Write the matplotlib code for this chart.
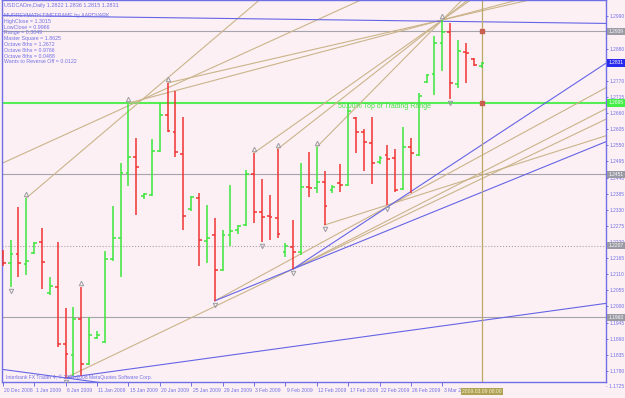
import numpy as np
import matplotlib.pyplot as plt
from matplotlib import transforms

# USDCADm daily bars, left to right
opens = [1.2182, 1.2148, 1.2179, 1.2145, 1.2182, 1.2220, 1.2046, 1.2066, 1.1872, 1.1834,
         1.1957, 1.1803, 1.1892, 1.1879, 1.2162, 1.2234, 1.2455, 1.2510, 1.2377, 1.2380,
         1.2530, 1.2653, 1.2595, 1.2520, 1.2332, 1.2370, 1.2223, 1.2244, 1.2124, 1.2244,
         1.2261, 1.2278, 1.2452, 1.2322, 1.2309, 1.2302, 1.2186, 1.2203, 1.2186, 1.2408,
         1.2404, 1.2425, 1.2397, 1.2421, 1.2414, 1.2643, 1.2595, 1.2558, 1.2493, 1.2517,
         1.2507, 1.2401, 1.2544, 1.2517, 1.2766, 1.2793, 1.2899, 1.2937, 1.2759, 1.2868,
         1.2844, 1.2822]
highs = [1.2193, 1.2227, 1.2339, 1.2370, 1.2220, 1.2268, 1.2100, 1.2220, 1.1995, 1.1998,
         1.2066, 1.1964, 1.1916, 1.2189, 1.2343, 1.2489, 1.2694, 1.2575, 1.2387, 1.2571,
         1.2694, 1.2763, 1.2735, 1.2647, 1.2377, 1.2387, 1.2346, 1.2302, 1.2261, 1.2414,
         1.2278, 1.2466, 1.2524, 1.2435, 1.2380, 1.2537, 1.2216, 1.2295, 1.2489, 1.2527,
         1.2544, 1.2462, 1.2414, 1.2486, 1.2694, 1.2647, 1.2606, 1.2647, 1.2513, 1.2551,
         1.2537, 1.2612, 1.2575, 1.2728, 1.2793, 1.2923, 1.2978, 1.2967, 1.2909, 1.2899,
         1.2848, 1.2836]
lows = [1.2138, 1.2066, 1.2100, 1.2107, 1.2179, 1.2060, 1.2039, 1.1861, 1.1756, 1.1763,
        1.1763, 1.1800, 1.1889, 1.1875, 1.2155, 1.2100, 1.2411, 1.2312, 1.2367, 1.2377,
        1.2527, 1.2595, 1.2510, 1.2261, 1.2326, 1.2138, 1.2148, 1.2019, 1.2121, 1.2206,
        1.2247, 1.2274, 1.2285, 1.2220, 1.2227, 1.2234, 1.2169, 1.2128, 1.2176, 1.2373,
        1.2387, 1.2278, 1.2387, 1.2391, 1.2411, 1.2524, 1.2462, 1.2418, 1.2486, 1.2346,
        1.2391, 1.2397, 1.2387, 1.2513, 1.2763, 1.2722, 1.2803, 1.2708, 1.2745, 1.2763,
        1.2821, 1.2815]
closes = [1.2148, 1.2179, 1.2148, 1.2155, 1.2216, 1.2152, 1.2070, 1.1872, 1.1838, 1.1957,
          1.1803, 1.1902, 1.1902, 1.2162, 1.2234, 1.2455, 1.2510, 1.2476, 1.2384, 1.2530,
          1.2653, 1.2599, 1.2527, 1.2309, 1.2373, 1.2227, 1.2234, 1.2124, 1.2244, 1.2257,
          1.2274, 1.2452, 1.2322, 1.2305, 1.2305, 1.2247, 1.2206, 1.2186, 1.2408, 1.2404,
          1.2425, 1.2343, 1.2408, 1.2414, 1.2667, 1.2595, 1.2561, 1.2489, 1.2507, 1.2503,
          1.2397, 1.2544, 1.2524, 1.2718, 1.2790, 1.2899, 1.2937, 1.2763, 1.2872, 1.2865,
          1.2824, 1.2831]

up_fractals = [3, 10, 16, 21, 32, 35, 40, 56]
down_fractals = [1, 8, 27, 33, 37, 41, 49, 57]

date_pos = [0, 4, 8, 12, 16, 20, 24, 28, 32, 36, 40, 44, 48, 52, 56]
date_labels = ["20 Dec 2008", "1 Jan 2009", "6 Jan 2009", "11 Jan 2009", "15 Jan 2009",
               "20 Jan 2009", "25 Jan 2009", "29 Jan 2009", "3 Feb 2009", "9 Feb 2009",
               "12 Feb 2009", "17 Feb 2009", "22 Feb 2009", "26 Feb 2009", "3 Mar 2009"]
cursor_bar = 61
cursor_label = "2009.03.09 08:00"

price_ticks = [1.1780, 1.1835, 1.1890, 1.1945, 1.2000, 1.2055, 1.2110, 1.2165, 1.2220,
               1.2275, 1.2330, 1.2385, 1.2440, 1.2495, 1.2550, 1.2605, 1.2660, 1.2715,
               1.2770, 1.2825, 1.2880, 1.2935, 1.2990]
bottom_tick = 1.1725

# murrey math levels
grey_levels = [1.2939, 1.2451, 1.2207, 1.1963]
grey_styles = ["-", "-", ":", "-"]
green_level = 1.2695
last_price = 1.2831

# trend lines (bar, price) -> (bar, price), extended to the right
tan_lines = [(8, 1.1756, 37, 1.2128),
             (41, 1.2278, 49, 1.2346),
             (27, 1.2019, 77, 1.2749),
             (37, 1.2128, 77, 1.2677),
             (3, 1.2370, 20, 1.2757),
             (-0.3, 1.2486, 25.2, 1.2797),
             (32, 1.2524, 56, 1.2978),
             (35, 1.2537, 56, 1.2978),
             (40, 1.2544, 56, 1.2978),
             (21, 1.2763, 56, 1.2978),
             (16, 1.2694, 56, 1.2978)]
blue_lines = [(37, 1.2128, 77, 1.2833),
              (27, 1.2019, 37, 1.2128),
              (8, 1.1756, 77, 1.2011),
              (-0.3, 1.1786, 8, 1.1756),
              (-0.3, 1.2993, 77, 1.2966)]

title = "USDCADm,Daily 1.2822 1.2836 1.2815 1.2831"
info_lines = ["MURREYMATH TIMEFRAME by AARDVARK", "HighClose = 1.3015", "LowClose = 0.9966",
              "Range = 0.3049", "Master Square = 1.8625", "Octave 8ths = 1.2672",
              "Octave 8ths = 0.9766", "Octave 8ths = 0.0488", "Wants to Reverse Off = 0.0122"]
copyright = "Interbank FX Trader 4, \u00a9 2001-2008 MetaQuotes Software Corp."

bg = "#fdf0f4"
fg = "#7070e6"
tan = "#c9b48a"
blue = "#6464e6"
grey = "#a4a4ac"
plt.rcParams["font.family"] = ["Liberation Sans", "DejaVu Sans"]

fig = plt.figure(figsize=(6.25, 3.98), dpi=100, facecolor=bg)
ax = fig.add_axes([2 / 625, 16 / 398, 604 / 625, 382 / 398], facecolor=bg)
xmin, xmax = -0.1, 76.85
ax.set_xlim(xmin, xmax)
ax.set_ylim(1.1742, 1.3046)
for s in ax.spines.values():
    s.set_color(fg)
    s.set_linewidth(1.0)

# levels
for lv, ls in zip(grey_levels, grey_styles):
    ax.axhline(lv, color=grey, lw=0.8, ls=ls, zorder=1)
ax.axhline(green_level, color="#55ee55", lw=1.5, zorder=1)
ax.text(42.7, green_level, "50.00% Top of Trading Range", color="#44dd44", fontsize=5.0,
        va="top", ha="left")

# trend lines
def ray(k1, p1, k2, p2, color):
    slope = (p2 - p1) / (k2 - k1)
    ax.plot([k1, xmax], [p1, p1 + slope * (xmax - k1)], color=color, lw=0.8, zorder=2)

for ln in tan_lines:
    ray(*ln, tan)
for ln in blue_lines:
    ray(*ln, blue)

ax.axvline(cursor_bar, color="#bba96a", lw=0.9, zorder=2)
ax.plot([cursor_bar, cursor_bar], [grey_levels[0], green_level], ls="none", marker="s",
        ms=2.2, color="#c86050", zorder=4)

# bars
idx = np.arange(len(opens))
up = np.array(closes) >= np.array(opens)
colors = np.where(up, "#3be63b", "#f03232")
ax.vlines(idx, lows, highs, colors=colors, lw=1.1, zorder=3)
ax.hlines(opens, idx - 0.36, idx, colors=colors, lw=1.1, zorder=3)
ax.hlines(closes, idx, idx + 0.36, colors=colors, lw=1.1, zorder=3)

# fractals
up_tr = transforms.offset_copy(ax.transData, fig=fig, y=4, units="dots")
dn_tr = transforms.offset_copy(ax.transData, fig=fig, y=-4, units="dots")
ax.plot(up_fractals, [highs[i] for i in up_fractals], ls="none", marker="^", ms=3.2,
        mfc="none", mec="#9a9aa0", mew=0.7, transform=up_tr, zorder=4)
ax.plot(down_fractals, [lows[i] for i in down_fractals], ls="none", marker="v", ms=3.2,
        mfc="none", mec="#9a9aa0", mew=0.7, transform=dn_tr, zorder=4)

# price axis
fs_axis = 3.5
ax.yaxis.tick_right()
ax.set_yticks(price_ticks)
ax.set_yticklabels(["%.4f" % t for t in price_ticks])
ax.tick_params(axis="y", direction="out", length=1.5, width=0.7, colors=fg,
               labelsize=fs_axis, pad=0.8)
rtr = transforms.blended_transform_factory(ax.transAxes, ax.transData)
ax.text(1.0, bottom_tick, "- %.4f" % bottom_tick, transform=rtr, color=fg, fontsize=fs_axis,
        va="center", ha="left", clip_on=False)
box_levels = grey_levels + [green_level, last_price]
box_colors = ["#9a9aa4"] * 4 + ["#44ee44", "#2a2aee"]
for lv, c in zip(box_levels, box_colors):
    ax.text(1.004, lv, "%.4f" % lv, transform=rtr, color="white", fontsize=fs_axis, va="center",
            ha="left", clip_on=False,
            bbox=dict(boxstyle="square,pad=0.25", fc=c, ec="none"))

# time axis
ax.set_xticks(date_pos)
ax.set_xticklabels(date_labels, ha="left")
ax.tick_params(axis="x", direction="out", length=3, width=0.7, colors=fg, labelsize=3.6, pad=1)
for lbl in ax.get_xticklabels():
    lbl.set_transform(lbl.get_transform() + transforms.Affine2D().translate(1.5, 0))
ttr = transforms.blended_transform_factory(ax.transData, ax.transAxes)
ax.text(cursor_bar, -0.025, cursor_label, transform=ttr, color="#f4f0d8", fontsize=3.6,
        ha="center", va="center", clip_on=False,
        bbox=dict(boxstyle="square,pad=0.25", fc="#b0a254", ec="none"))

# info text
fig.text(4 / 625, 1 - 5 / 398, title, color=fg, fontsize=4.0, va="center")
for i, t in enumerate(info_lines):
    fig.text(4 / 625, 1 - (15.5 + 5.8 * i) / 398, t, color=fg, fontsize=3.8, va="center")
fig.text(6 / 625, 1 - 377 / 398, copyright, color=fg, fontsize=3.6, va="center")

fig.savefig("out.png", dpi=100, facecolor=bg)
